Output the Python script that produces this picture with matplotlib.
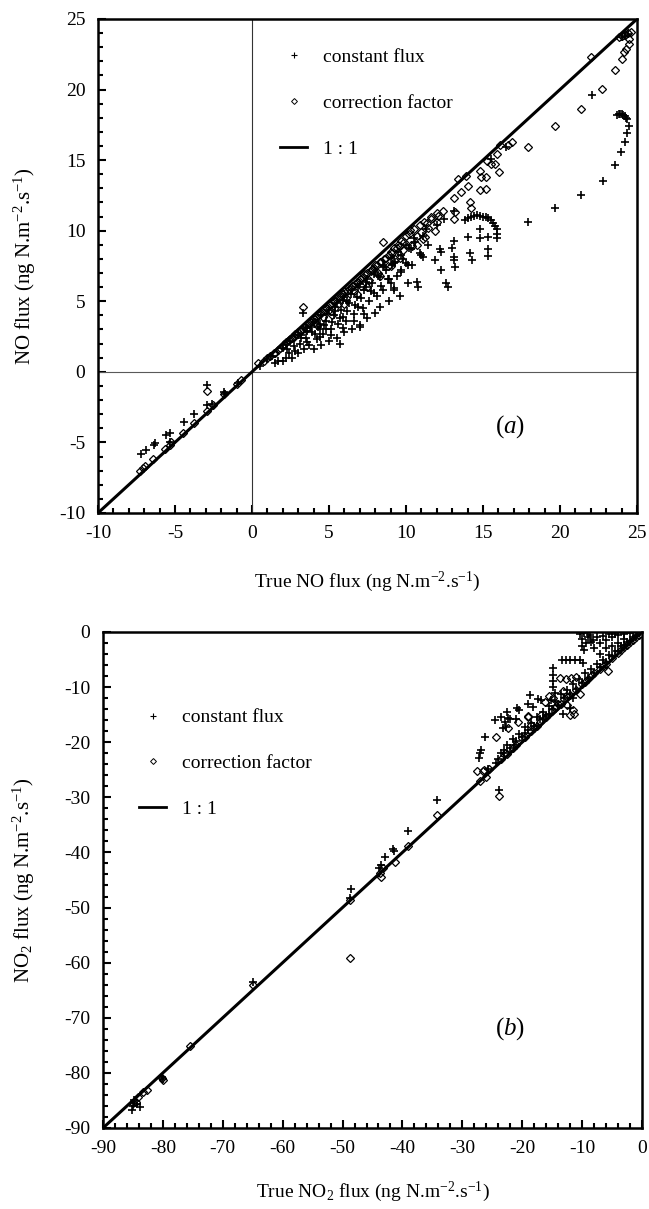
import matplotlib
matplotlib.use('Agg')
import matplotlib.pyplot as plt
from matplotlib.lines import Line2D
from matplotlib.ticker import MultipleLocator

plt.rcParams['font.family'] = ['Liberation Serif', 'DejaVu Serif']
plt.rcParams['mathtext.fontset'] = 'custom'
plt.rcParams['mathtext.rm'] = 'Liberation Serif'
plt.rcParams['mathtext.it'] = 'Liberation Serif:italic'
plt.rcParams['axes.unicode_minus'] = False

# ---- panel (a): NO flux, constant flux method (+) ----
a_plus_x = [-7.2, -6.9, -6.35, -6.3, -5.6, -5.3, -5.3, -4.4, -3.75, -2.9, -2.6, -2.9, -1.8, -1.75, -0.9,
            1.5, 1.7, 2.0, 2.2, 2.4, 2.6, 2.8, 3.0, 3.1, 3.3, 3.4, 3.5, 3.7, 3.9, 4.0, 4.2, 4.3, 4.5, 4.6, 4.8,
            5.0, 5.1, 5.3, 5.5, 5.6, 5.7, 5.8, 6.0, 6.1, 6.3, 6.5, 6.6, 6.8, 7.0, 7.0, 7.2, 7.3, 7.5, 7.6, 7.8,
            8.0, 8.1, 8.3, 8.3, 8.5, 8.7, 8.9, 9.0, 9.2, 9.2, 9.4, 9.6, 9.7, 9.7, 10.0, 10.1, 10.2, 10.4, 10.6,
            10.7, 10.8, 10.9, 11.0, 11.1, 11.1, 11.3, 11.4, 11.9, 12.2, 12.3, 12.3, 12.6, 12.7, 12.0, 12.5,
            13.0, 13.1, 13.1, 13.2, 13.1, 13.1, 13.8, 14.0, 14.2, 14.4, 14.6, 14.8, 15.0, 15.2, 15.35, 15.5,
            15.65, 15.8, 15.9, 15.9, 14.05, 14.8, 14.8, 15.35, 15.9, 14.15, 14.3, 15.3, 15.35, 10.1, 9.7, 9.2,
            17.95, 19.7, 21.35, 22.8, 22.05, 23.55, 23.95, 24.2, 24.35, 24.45, 24.35, 23.7, 23.8, 23.9, 24.0,
            24.1, 24.2, 24.3, 16.5, 15.5, 24.0, 24.2, 24.4,
            0.5, 1.0, 1.3, 2.0, 2.5, 3.0, 3.5, 4.0, 4.5, 5.0, 5.5, 6.0, 6.5, 7.0, 7.5, 8.0, 8.5, 9.0, 9.5,
            10.0, 10.5, 2.2, 3.2, 4.4, 5.4, 6.2, 7.4, 8.2, 9.1, 4.8, 5.9, 6.9, 7.9, 8.8,
            2.3, 2.7, 3.2, 3.6, 3.8, 4.1, 4.4, 4.7, 4.9, 5.2, 5.4, 5.7, 5.9, 6.2, 6.4, 6.7, 6.9, 7.1, 7.4,
            7.7, 7.9, 8.4, 8.6, 8.9, 9.3, 9.8, 10.3, 3.6, 4.4, 5.1, 5.9, 6.6, 7.3]
a_plus_y = [-5.85, -5.55, -5.15, -5.05, -4.5, -4.3, -4.95, -3.55, -3.0, -2.35, -2.3, -0.95, -1.4, -1.55, -0.8,
            0.6, 0.8, 0.8, 1.0, 1.3, 1.0, 1.5, 1.3, 2.0, 4.2, 1.6, 2.4, 1.9, 2.8, 1.6, 2.3, 3.2, 1.9, 2.7, 3.6,
            2.2, 3.0, 4.0, 2.4, 3.4, 2.0, 4.4, 2.8, 3.6, 4.9, 3.0, 4.1, 5.3, 3.3, 3.2, 4.5, 5.8, 3.8, 5.0, 6.3,
            4.2, 5.4, 4.6, 6.7, 5.8, 7.2, 5.0, 6.3, 5.8, 7.7, 6.8, 5.4, 7.2, 8.3, 7.7, 6.3, 8.8, 7.6, 9.2,
            6.4, 6.0, 8.4, 8.3, 9.6, 8.15, 10.1, 9.0, 7.9, 8.7, 8.5, 7.2, 6.3, 6.0, 10.4, 10.8,
            8.75, 8.15, 7.9, 7.4, 9.3, 11.4, 10.75, 10.9, 11.0, 11.05, 11.08, 11.05, 11.0, 10.95, 10.9, 10.75,
            10.55, 10.3, 10.1, 9.8, 9.55, 9.5, 10.1, 9.55, 9.5, 8.45, 7.9, 8.7, 8.2, 7.6, 7.1, 5.95,
            10.65, 11.6, 12.55, 13.5, 19.6, 14.65, 15.6, 16.3, 16.9, 17.4, 17.9, 18.2, 18.3, 18.3, 18.25,
            18.2, 18.1, 18.0, 15.9, 15.1, 23.7, 23.8, 23.95,
            0.4, 0.9, 1.1, 1.7, 2.2, 2.6, 3.1, 3.5, 4.0, 4.4, 4.9, 5.3, 5.8, 6.2, 6.6, 7.1, 7.6, 8.1, 8.5,
            9.0, 9.5, 1.9, 2.6, 3.4, 4.3, 5.0, 6.0, 6.8, 7.6, 3.0, 3.9, 4.6, 5.6, 6.6,
            1.6, 1.8, 2.4, 2.9, 3.2, 2.7, 3.0, 3.3, 4.1, 3.5, 4.6, 3.8, 5.1, 4.3, 5.5, 4.7, 6.0, 5.2, 6.4,
            5.7, 6.9, 6.1, 7.4, 6.6, 7.8, 8.0, 8.7, 2.1, 2.5, 2.6, 3.1, 3.6, 4.1]

# ---- panel (a): correction factor method (diamonds) ----
a_diam_x = [-7.3, -7.05, -6.95, -6.45, -5.65, -5.3, -5.25, -4.45, -3.75, -2.9, -2.5, -2.9, -1.8, -1.0, -0.7, 0.4,
            0.8, 1.2, 1.5, 1.8, 2.0, 2.2, 2.5, 2.7, 2.8, 3.0, 3.2, 3.3, 3.5, 3.6, 3.8, 4.0, 4.1, 4.3, 4.5, 4.6,
            4.8, 5.0, 5.1, 5.3, 5.5, 5.6, 5.8, 6.0, 6.1, 6.3, 6.5, 6.6, 6.8, 7.0, 7.1, 7.3, 7.5, 7.6, 7.8, 8.0,
            8.2, 8.3, 8.5, 8.6, 8.8, 9.0, 9.2, 9.3, 9.5, 9.7, 9.8, 10.0, 10.2, 10.3, 10.5, 10.7, 10.9, 11.0,
            11.2, 11.4, 11.6, 11.6, 11.9, 12.0, 12.1, 12.4, 13.1, 13.1, 13.2, 13.4, 13.6, 13.9, 14.05, 14.15,
            14.25, 14.8, 14.8, 14.9, 15.2, 15.2, 15.25, 15.5, 15.8, 15.9, 16.05, 16.1, 16.65, 16.9, 17.9, 19.7,
            21.35, 22.0, 22.75, 23.55, 24.0, 24.15, 24.3, 24.45, 23.8, 24.0, 24.2, 24.4, 24.5, 24.6,
            3.5, 4.2, 5.2, 6.0, 6.8, 7.5, 8.3, 9.0, 9.6, 10.4, 11.1, 10.26, 11.34, 11.99, 11.23, 10.69,
            1.0, 1.4, 1.7, 2.1, 2.4, 2.6, 2.9, 3.1, 3.4, 3.7, 3.9, 4.2, 4.4, 4.7, 4.9, 5.2, 5.4, 5.7, 5.9,
            6.2, 6.4, 6.7, 6.9, 7.2, 7.4, 7.7, 7.9, 8.1, 8.4, 8.7, 8.9, 9.1, 9.4, 9.6, 9.9]
a_diam_y = [-7.05, -6.8, -6.7, -6.2, -5.45, -5.15, -5.0, -4.3, -3.6, -2.8, -2.35, -1.35, -1.6, -0.85, -0.6, 0.6,
            0.75, 1.1, 1.35, 1.7, 1.8, 2.1, 2.3, 2.5, 2.7, 2.8, 2.9, 4.6, 3.3, 3.1, 3.5, 3.8, 3.5, 4.0, 4.2, 3.9,
            4.5, 4.7, 4.3, 5.0, 5.2, 4.8, 5.4, 5.7, 5.2, 5.9, 6.1, 5.7, 6.4, 6.6, 6.1, 6.9, 7.0, 6.5, 7.3, 7.6,
            7.0, 7.8, 9.2, 8.0, 7.5, 8.5, 8.8, 8.0, 9.0, 9.3, 8.6, 9.6, 9.8, 9.0, 10.1, 9.6, 10.4, 9.9,
            10.6, 10.2, 10.8, 11.0, 10.0, 10.6, 11.05, 11.4, 12.35, 10.85, 11.3, 13.65, 12.75, 13.85, 13.2, 12.0,
            11.6, 14.25, 12.85, 13.8, 13.8, 12.95, 14.95, 14.7, 14.7, 15.45, 14.15, 16.05, 16.05, 16.3, 15.9, 17.4,
            18.65, 22.3, 20.05, 21.4, 22.2, 22.65, 22.9, 23.25, 23.7, 23.8, 23.9, 24.0, 23.6, 24.1,
            3.0, 3.3, 4.0, 4.8, 5.5, 6.0, 6.8, 7.5, 8.1, 8.9, 9.4, 10.05, 10.52, 11.23, 9.57, 8.98,
            0.95, 1.3, 1.55, 1.95, 2.25, 2.4, 2.7, 2.9, 3.15, 3.45, 3.6, 3.9, 4.1, 4.4, 4.55, 4.85, 5.0, 5.3, 5.5,
            5.75, 5.95, 6.25, 6.4, 6.7, 6.9, 7.15, 7.35, 7.55, 7.8, 8.1, 8.3, 8.45, 8.75, 8.95, 9.2]

# ---- panel (b): NO2 flux, constant flux method (+) ----
b_plus_x = [-85.2, -84.9, -83.8, -84.8, -85.0, -84.3, -80.2, -80.0, -64.9, -48.6, -48.7, -43.9, -43.6, -42.9,
            -41.5, -41.4, -39.0, -34.2, -23.8, -27.05, -26.8, -27.2, -26.2, -24.55, -22.6, -22.4, -23.5, -21.0,
            -20.6, -20.9, -22.0, -22.9, -23.2, -22.7, -18.7, -17.3, -19.0, -18.2, -16.9, -15.6, -14.8, -14.8,
            -14.8, -14.8, -14.6, -15.2, -13.4, -12.7, -12.0, -11.2, -10.4, -9.9, -10.3, -10.0, -9.6, -9.4, -9.0,
            -8.6, -8.2, -9.7, -10.1, -11.5, -12.0, -13.2, -16.5, -17.6, -19.5, -21.3, -23.0, -24.3, -25.7,
            -23.5, -22.5, -21.5, -20.5, -19.5, -18.5, -17.5, -16.5, -15.5, -14.5, -13.5, -12.5, -11.5, -10.5,
            -9.5, -8.5, -7.5, -6.5, -5.5, -4.5, -3.5, -2.5, -1.5, -0.8,
            -8.0, -7.0, -6.0, -5.0, -4.0, -3.0, -2.0, -7.0, -6.0, -5.0, -4.0, -3.0, -6.5, -5.5, -4.5, -8.5, -7.5,
            -24.0, -23.0, -22.0, -21.0, -20.0, -19.0, -18.0, -17.0, -16.0, -15.0, -14.0, -13.0, -12.0, -11.0,
            -10.0, -9.0, -8.0, -7.0, -6.0, -5.0, -4.0, -3.0, -2.0, -1.0]
b_plus_y = [-86.7, -85.5, -86.1, -84.9, -86.0, -85.7, -80.7, -81.2, -63.6, -46.7, -48.3, -42.9, -42.2, -40.8,
            -39.3, -39.8, -36.2, -30.5, -28.7, -22.0, -21.4, -22.8, -19.0, -16.0, -14.5, -15.7, -15.4, -15.8,
            -14.2, -13.8, -15.8, -16.3, -17.5, -17.2, -11.5, -12.1, -13.0, -13.6, -12.4, -14.9, -6.5, -7.8,
            -8.9, -10.0, -11.0, -12.4, -5.0, -5.0, -5.0, -5.0, -5.0, -5.6, -0.4, -1.2, -0.2, -2.0, -1.0,
            -0.5, -1.5, -3.2, -2.6, -12.0, -13.8, -14.8, -15.7, -17.0, -18.3, -20.5, -22.0, -23.7, -24.8,
            -22.0, -20.5, -19.5, -18.5, -17.2, -16.5, -15.5, -14.5, -13.5, -12.5, -11.3, -10.5, -9.5, -8.5,
            -7.5, -6.8, -5.8, -5.0, -4.2, -3.5, -2.6, -1.8, -1.0, -0.5,
            -3.0, -2.0, -1.5, -1.0, -0.6, -0.4, -0.2, -4.0, -3.0, -2.5, -2.0, -1.3, -0.8, -0.4, -0.3, -1.8, -0.9,
            -23.0, -21.5, -21.0, -19.8, -19.0, -17.8, -17.0, -15.8, -15.2, -14.0, -13.2, -12.0, -11.3, -10.3,
            -9.3, -8.3, -7.4, -6.4, -5.4, -4.4, -3.5, -2.4, -1.6, -0.7]

# ---- panel (b): correction factor method (diamonds) ----
b_diam_x = [-84.1, -83.3, -82.6, -84.5, -85.0, -80.2, -79.9, -75.4, -64.9, -48.8, -48.7, -43.75, -43.6, -43.3,
            -41.2, -39.0, -34.2, -23.8, -26.3, -26.6, -27.5, -25.5, -27.0, -26.0, -24.3, -22.4, -20.7, -19.0,
            -19.0, -18.6, -16.8, -16.2, -15.6, -14.8, -13.7, -12.7, -11.8, -11.1, -13.2, -14.3, -12.1, -11.6,
            -11.4, -12.5, -10.3, -8.4, -5.6, -22.8, -21.5, -20.0, -18.0, -17.0, -15.0, -14.0, -13.0, -12.0,
            -10.0, -9.0, -7.0, -6.0, -4.0, -3.0, -2.0, -1.0,
            -23.5, -22.5, -21.0, -19.5, -18.5, -17.5, -16.0, -14.5, -13.5, -12.5, -11.0, -9.5, -8.0, -6.5,
            -5.0, -3.5, -2.5, -1.5, -0.5]
b_diam_y = [-84.3, -83.4, -83.1, -85.2, -85.5, -80.9, -81.3, -75.2, -64.0, -48.6, -59.2, -43.8, -44.4, -42.9,
            -41.7, -38.8, -33.3, -29.7, -25.0, -25.3, -25.2, -24.8, -27.0, -26.3, -19.0, -17.5, -16.3, -15.2,
            -15.4, -16.9, -15.0, -12.8, -11.7, -12.0, -8.4, -8.6, -8.3, -8.1, -10.7, -13.5, -15.1, -14.2,
            -14.8, -13.3, -11.2, -7.8, -7.1, -21.9, -21.0, -19.3, -17.5, -16.3, -14.3, -13.0, -12.2, -11.4,
            -9.5, -8.6, -6.8, -5.8, -3.8, -2.8, -1.8, -0.9,
            -23.0, -22.2, -20.5, -19.0, -18.0, -17.0, -15.5, -13.8, -13.0, -11.8, -10.5, -9.0, -7.5, -6.2,
            -4.8, -3.3, -2.4, -1.4, -0.5]

a_lim = (-10, 25)
b_lim = (-90, 0)
unit = r' (ng N.m$^{\mathregular{-2}}$.s$^{\mathregular{-1}}$)'

fig = plt.figure(figsize=(6.49, 12.09), dpi=100)
ax_a = fig.add_axes([0.151, 0.5757, 0.8305, 0.4086])
ax_b = fig.add_axes([0.1587, 0.0670, 0.8305, 0.4103])


def style_panel(ax, lim, major, minor):
    ax.set_xlim(lim)
    ax.set_ylim(lim)
    ax.xaxis.set_major_locator(MultipleLocator(major))
    ax.xaxis.set_minor_locator(MultipleLocator(minor))
    ax.yaxis.set_major_locator(MultipleLocator(major))
    ax.yaxis.set_minor_locator(MultipleLocator(minor))
    ax.tick_params(which='both', direction='in', top=False, right=False, labelsize=14, pad=9, width=1.5)
    ax.tick_params(which='major', length=6)
    ax.tick_params(which='minor', length=3.5)
    for s in ax.spines.values():
        s.set_linewidth(1.8)


def scatter_pair(ax, px, py, dx, dy, lim):
    ax.plot(px, py, linestyle='none', marker='+', markersize=6, markeredgewidth=1.2, color='black')
    ax.plot(dx, dy, linestyle='none', marker='D', markersize=4, markeredgewidth=0.9,
            markerfacecolor='none', markeredgecolor='black')
    ax.plot(lim, lim, color='black', linewidth=2.2)


def add_legend(ax, anchor):
    handles = [Line2D([], [], linestyle='none', marker='+', markersize=4, markeredgewidth=0.8, color='black'),
               Line2D([], [], linestyle='none', marker='D', markersize=3, markeredgewidth=0.7,
                      markerfacecolor='none', markeredgecolor='black'),
               Line2D([], [], color='black', linewidth=2)]
    ax.legend(handles, ['constant flux', 'correction factor', '1 : 1'], loc='upper left',
              bbox_to_anchor=anchor, frameon=False, fontsize=14, handlelength=1.4,
              handletextpad=0.8, labelspacing=1.45, borderpad=0, borderaxespad=0)


# panel (a)
style_panel(ax_a, a_lim, 5, 1)
ax_a.axhline(0, color='0.35', linewidth=0.8)
ax_a.axvline(0, color='0.2', linewidth=0.8)
scatter_pair(ax_a, a_plus_x, a_plus_y, a_diam_x, a_diam_y, a_lim)
add_legend(ax_a, (0.338, 0.94))
ax_a.set_xlabel('True NO flux' + unit, fontsize=14)
ax_a.set_ylabel('NO flux' + unit, fontsize=15)
ax_a.xaxis.set_label_coords(0.5, -0.115)
ax_a.yaxis.set_label_coords(-0.112, 0.5)
ax_a.text(0.765, 0.175, r'$(a)$', transform=ax_a.transAxes, fontsize=18, ha='center', va='center')

# panel (b)
style_panel(ax_b, b_lim, 10, 2)
scatter_pair(ax_b, b_plus_x, b_plus_y, b_diam_x, b_diam_y, b_lim)
add_legend(ax_b, (0.067, 0.845))
ax_b.set_xlabel(r'True NO$_{\mathregular{2}}$ flux' + unit, fontsize=14)
ax_b.set_ylabel(r'NO$_{\mathregular{2}}$ flux' + unit, fontsize=15)
ax_b.xaxis.set_label_coords(0.5, -0.105)
ax_b.yaxis.set_label_coords(-0.122, 0.5)
ax_b.text(0.755, 0.2, r'$(b)$', transform=ax_b.transAxes, fontsize=18, ha='center', va='center')

fig.savefig('out.png', dpi=100)
